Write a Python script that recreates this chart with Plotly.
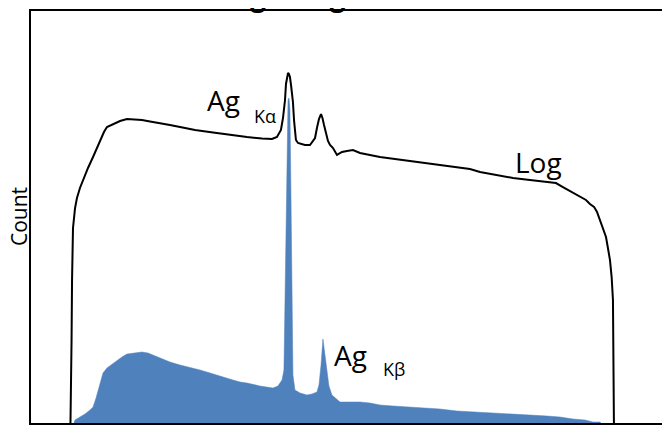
import plotly.graph_objects as go

# Energy (keV) and counts for the log-scale (black) curve
log_energy = [3.95, 4.0, 4.04, 4.08, 4.16, 4.33, 4.49, 4.74, 4.99, 5.41, 5.83, 6.16, 6.41, 6.74, 6.99,
              7.33, 7.66, 8.08, 8.66, 9.33, 9.91, 10.58, 11.41, 12.24, 13.08, 14.33, 15.83, 17.24,
              18.66, 19.91, 20.74, 21.16, 21.49, 21.66, 21.83, 21.91, 21.99, 22.08, 22.16, 22.24,
              22.33, 22.49, 22.58, 22.66, 22.74, 22.91, 23.16, 23.49, 23.91, 24.33, 24.49, 24.66,
              24.83, 24.95, 25.08, 25.24, 25.41, 25.58, 25.83, 26.16, 26.58, 26.99, 27.49, 28.08,
              28.91, 29.74, 30.99, 32.24, 33.49, 34.74, 35.99, 37.24, 38.08, 39.49, 40.83, 42.24,
              43.66, 44.41, 44.99, 45.74, 46.41, 46.91, 47.24, 47.58, 47.83, 48.08, 48.33, 48.58,
              48.74, 48.91, 49.05, 49.16, 49.24, 49.24]
log_counts = [1, 2.14, 6.76, 26.9, 89.1, 141, 178, 224, 269, 355, 457, 562, 676, 813, 912,
              955, 1000, 1047, 1096, 1084, 1072, 1035, 1000, 955, 912, 851, 804, 759,
              724, 700, 692, 724, 851, 1122, 1698, 2455, 2951, 3162, 3090, 2884,
              2399, 1622, 1072, 813, 676, 631, 617, 603, 603, 708, 891, 1096,
              1230, 1122, 955, 776, 661, 603, 562, 479, 513, 525, 537, 501,
              479, 457, 437, 417, 398, 380, 363, 347, 324, 302, 282, 269,
              257, 251, 229, 204, 186, 170, 155, 145, 129, 107, 89.1, 72.4,
              56.2, 42.7, 28.8, 17.0, 1]

# Energy (keV) and counts for the linear-scale (blue) histogram
lin_energy = [4.24, 4.33, 4.74, 5.16, 5.58, 5.83, 6.08, 6.33, 6.49, 6.66, 6.99, 7.41, 7.91, 8.24,
              8.66, 9.33, 9.91, 10.41, 10.83, 11.41, 12.24, 13.08, 14.16, 14.74, 15.58, 16.58,
              17.49, 18.08, 18.66, 19.74, 20.83, 21.24, 21.58, 21.74, 21.91, 21.99, 22.08, 22.16,
              22.24, 22.33, 22.41, 22.49, 22.66, 23.08, 23.66, 24.08, 24.49, 24.66, 24.83, 24.99,
              25.16, 25.33, 25.49, 25.74, 25.99, 26.41, 27.24, 28.08, 28.91, 29.74, 30.83, 32.24,
              33.49, 34.74, 36.16, 37.66, 39.49, 41.41, 43.66, 44.74, 45.83, 46.83, 47.49, 48.08,
              48.16]
lin_counts = [0, 30, 60, 90, 130, 160, 250, 350, 430, 500, 550, 590, 630, 660,
              690, 700, 710, 700, 680, 650, 610, 580, 550, 530, 500, 460,
              430, 410, 400, 370, 350, 370, 430, 530, 1730, 2730, 3230, 3250,
              3130, 2230, 930, 480, 330, 300, 280, 290, 310, 380, 580, 840,
              680, 510, 370, 280, 250, 210, 210, 210, 200, 180, 170, 160,
              150, 140, 120, 110, 100, 90, 70, 60, 40, 30, 10, 10,
              0]

BLUE = "rgb(79,129,189)"
FONT = "Open Sans"

fig = go.Figure()
fig.add_trace(go.Scatter(x=lin_energy, y=lin_counts, mode="lines", fill="tozeroy",
                         line=dict(color=BLUE, width=0.5), fillcolor=BLUE,
                         yaxis="y", showlegend=False))
fig.add_trace(go.Scatter(x=log_energy, y=log_counts, mode="lines",
                         line=dict(color="black", width=2),
                         yaxis="y2", showlegend=False))

# page body has an 8px margin: plot area spans window x 31..678, y 11..423
def px(x):
    return (x - 31) / 647

def py(y):
    return (423 - y) / 412

annots = [
    ("Ag", 205, 100, 28),
    ("Kα", 252, 116, 18),
    ("Ag", 332, 355, 28),
    ("Kβ", 381, 369, 18),
    ("Log", 513, 162, 28),
]
for txt, x, y, s in annots:
    fig.add_annotation(text=txt, x=px(x), y=py(y), xref="paper", yref="paper",
                       xanchor="left", yanchor="middle", showarrow=False,
                       font=dict(family=FONT, size=s, color="black"))

fig.add_annotation(text="Count", x=px(19), y=py(217), xref="paper", yref="paper",
                   xanchor="center", yanchor="middle", textangle=-90, showarrow=False,
                   font=dict(family=FONT, size=21, color="black"))

# Chart title, cropped at the top edge as in the reference
fig.add_annotation(text="<b>Log vs Ag Linear</b>", x=px(329), y=1, xref="paper", yref="paper",
                   xanchor="center", yanchor="bottom", yshift=-5, showarrow=False,
                   font=dict(family=FONT, size=28, color="black"))

fig.update_layout(
    width=670, height=425,
    margin=dict(l=23, r=0, t=3, b=10, autoexpand=False),
    plot_bgcolor="white", paper_bgcolor="white",
    xaxis=dict(range=[0.66, 54.58], showline=True, mirror=True, linecolor="black", linewidth=2,
               showgrid=False, zeroline=False, showticklabels=False, ticks="", automargin=False),
    yaxis=dict(range=[0, 4120], showline=True, mirror=False, linecolor="black", linewidth=2,
               showgrid=False, zeroline=False, showticklabels=False, ticks="", automargin=False),
    yaxis2=dict(type="log", range=[0, 4.12], overlaying="y", visible=False),
)

fig.write_html("out.html")
